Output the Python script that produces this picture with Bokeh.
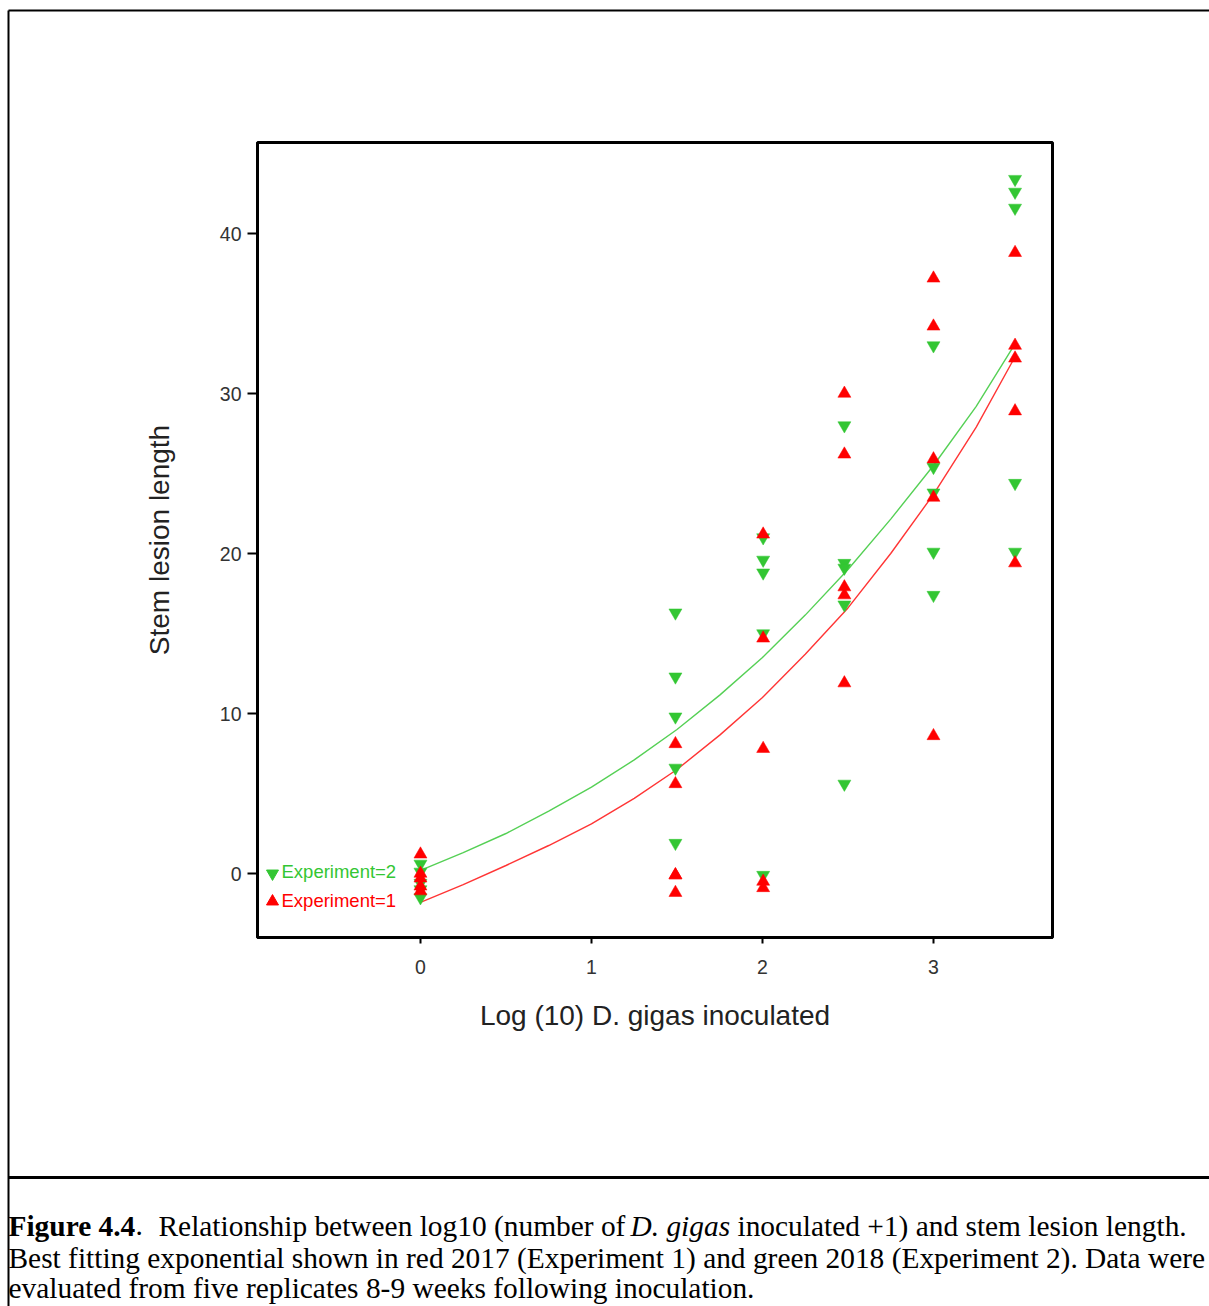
from bokeh.plotting import figure
from bokeh.models import Range1d, LinearAxis, FixedTicker
from bokeh.embed import file_html
from bokeh.resources import INLINE
from bokeh.core.properties import value

# ---------------- data ----------------
X_LEVELS = [0.0, 1.491, 2.004, 2.479, 3.000, 3.477]   # log10(D. gigas + 1)

# Experiment 1 (2017, red, upward triangles), five replicates per level
EXP1 = [
    [1.2, 0.0, -0.3, -0.8, -1.1],
    [8.1, 5.6, -0.1, -0.1, -1.2],
    [21.2, 14.7, 7.8, -0.5, -0.9],
    [30.0, 26.2, 17.9, 17.4, 11.9],
    [37.2, 34.2, 25.9, 23.5, 8.6],
    [38.8, 33.0, 32.2, 28.9, 19.4],
]
# Experiment 2 (2018, green, downward triangles)
EXP2 = [
    [0.6, 0.1, -0.6, -1.0, -1.5],
    [16.3, 12.3, 9.8, 6.6, 1.9],
    [21.0, 19.6, 18.8, 15.0, -0.1],
    [28.0, 19.4, 19.1, 16.8, 5.6],
    [33.0, 25.4, 23.8, 20.1, 17.4],
    [43.4, 42.6, 41.6, 24.4, 20.1],
]

# fitted exponential curves
FIT_X = [0.0, 0.25, 0.5, 0.75, 1.0, 1.25, 1.5, 1.75, 2.0, 2.25, 2.5, 2.75, 3.0, 3.25, 3.477]
FIT1 = [-1.8, -0.7, 0.5, 1.75, 3.1, 4.7, 6.5, 8.65, 11.0, 13.7, 16.6, 20.0, 23.7, 27.9, 32.3]
FIT2 = [0.2, 1.3, 2.5, 3.9, 5.4, 7.1, 9.0, 11.15, 13.5, 16.15, 19.0, 22.15, 25.5, 29.2, 33.1]

X_TICKS = [0, 1, 2, 3]
Y_TICKS = [0, 10, 20, 30, 40]
X_LIMITS = (-0.953, 3.696)
Y_LIMITS = (-4.0, 45.69)

X_TITLE = "Log (10) D. gigas inoculated"
Y_TITLE = "Stem lesion length"
LEGEND_LABELS = ["Experiment=2", "Experiment=1"]

CAPTION_L2 = ("Best fitting exponential shown in red 2017 (Experiment 1) and green 2018 "
              "(Experiment 2). Data were")
CAPTION_L3 = "evaluated from five replicates 8-9 weeks following inoculation."

# ---------------- layout geometry (pixels) ----------------
W, H = 1209, 1306
BOX_L, BOX_T, BOX_R, BOX_B = 257, 142, 1052, 937

sx = (BOX_R - BOX_L) / (X_LIMITS[1] - X_LIMITS[0])
sy = (BOX_B - BOX_T) / (Y_LIMITS[1] - Y_LIMITS[0])
x_start = X_LIMITS[0] - BOX_L / sx
x_end = X_LIMITS[1] + (W - BOX_R) / sx
y_end = Y_LIMITS[1] + BOX_T / sy
y_start = Y_LIMITS[0] - (H - BOX_B) / sy

RED = "#ff0000"
GREEN = "#33c633"
SANS = "Liberation Sans"
SERIF = "Liberation Serif"

p = figure(width=W, height=H,
           x_range=Range1d(x_start, x_end), y_range=Range1d(y_start, y_end),
           output_backend="svg", toolbar_location=None,
           x_axis_location=None, y_axis_location=None,
           min_border=0, outline_line_color=None,
           background_fill_color="white", border_fill_color="white")
p.xgrid.visible = False
p.ygrid.visible = False
p.extra_x_ranges = {"px": Range1d(0, W)}
p.extra_y_ranges = {"py": Range1d(H, 0)}

# ---------------- axes ----------------
yaxis = LinearAxis(fixed_location=X_LIMITS[0], bounds=Y_LIMITS,
                   ticker=FixedTicker(ticks=Y_TICKS, minor_ticks=[]),
                   axis_label=Y_TITLE)
xaxis = LinearAxis(fixed_location=Y_LIMITS[0], bounds=X_LIMITS,
                   ticker=FixedTicker(ticks=X_TICKS, minor_ticks=[]),
                   axis_label=X_TITLE)
for ax in (xaxis, yaxis):
    ax.axis_line_color = "black"
    ax.axis_line_width = 3
    ax.major_tick_line_color = "black"
    ax.major_tick_line_width = 2
    ax.major_tick_in = 0
    ax.minor_tick_line_color = None
    ax.major_label_text_font = SANS
    ax.major_label_text_font_size = "19.5px"
    ax.major_label_text_color = "#333333"
    ax.axis_label_text_font = SANS
    ax.axis_label_text_font_size = "28px"
    ax.axis_label_text_font_style = "normal"
    ax.axis_label_text_color = "#222222"
yaxis.major_tick_out = 10
yaxis.major_label_standoff = 6
yaxis.axis_label_standoff = 42
xaxis.major_tick_out = 6
xaxis.major_label_standoff = 16
xaxis.axis_label_standoff = 23
p.add_layout(yaxis, "left")
p.add_layout(xaxis, "below")

# chart box
p.quad(left=[X_LIMITS[0]], right=[X_LIMITS[1]], bottom=[Y_LIMITS[0]], top=[Y_LIMITS[1]],
       fill_color=None, line_color="black", line_width=3)

# ---------------- fitted curves ----------------
p.line(FIT_X, FIT2, line_color="#55d055", line_width=1.4)
p.line(FIT_X, FIT1, line_color="#ff3535", line_width=1.4)

# ---------------- points ----------------
x2 = [x for x, vals in zip(X_LEVELS, EXP2) for _ in vals]
y2 = [v for vals in EXP2 for v in vals]
x1 = [x for x, vals in zip(X_LEVELS, EXP1) for _ in vals]
y1 = [v for vals in EXP1 for v in vals]
p.scatter(x2, y2, marker="inverted_triangle", size=13, fill_color=GREEN, line_color=GREEN, line_width=0.5)
p.scatter(x1, y1, marker="triangle", size=13, fill_color=RED, line_color=RED, line_width=0.5)

# ---------------- legend (inside the box, bottom-left) ----------------
p.scatter([272], [873], marker="inverted_triangle", size=12, fill_color=GREEN, line_color=GREEN,
          x_range_name="px", y_range_name="py")
p.scatter([272], [901], marker="triangle", size=12, fill_color=RED, line_color=RED,
          x_range_name="px", y_range_name="py")
p.text(x=[281, 281], y=[871, 900], text=LEGEND_LABELS,
       text_color=[GREEN, RED], text_font=value(SANS), text_font_size="18.5px",
       text_baseline="middle", text_align="left",
       x_range_name="px", y_range_name="py")

# ---------------- outer frame lines ----------------
p.segment(x0=[8, 8, 8], y0=[10, 10, 1177], x1=[W, 8, W], y1=[10, H, 1177],
          line_color="black", line_width=[2, 2, 3],
          x_range_name="px", y_range_name="py")

# ---------------- caption ----------------
CAP_SIZE = "29.4px"


def cap(x, y, s, style="normal"):
    p.text(x=[x], y=[y], text=[s], text_font=value(SERIF), text_font_size=CAP_SIZE,
           text_font_style=style, text_color="black", text_baseline="alphabetic",
           text_align="left", x_range_name="px", y_range_name="py")


cap(8, 1225, "Figure 4.4", "bold")
cap(135, 1225, ".")
cap(158, 1225, "Relationship between log10 (number of")
cap(630, 1225, "D. gigas", "italic")
cap(737, 1225, "inoculated +1) and stem lesion length.")
cap(8, 1257, CAPTION_L2)
cap(8, 1287, CAPTION_L3)

open("out.html", "w").write(file_html(p, INLINE))
